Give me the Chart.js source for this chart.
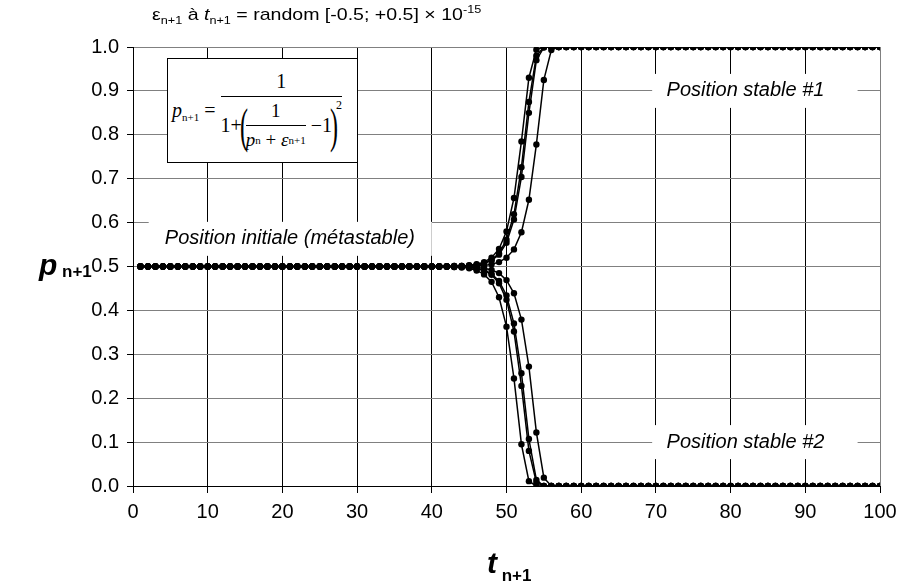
<!DOCTYPE html>
<html>
<head>
<meta charset="utf-8">
<script src="https://cdn.jsdelivr.net/npm/chart.js@4/dist/chart.umd.min.js"></script>
<style>
  body { margin: 0; background: #fff; }
  #wrap { position: relative; width: 907px; height: 586px; font-family: 'Liberation Sans', Arial, sans-serif; }
  #title { position: absolute; left: 152px; top: 3px; font-size: 17px; white-space: nowrap; transform: scaleX(1.15); transform-origin: left top; }
  #title sub, #title sup { font-size: 11px; }
  #ytitle { position: absolute; left: 39px; top: 248px; font-weight: bold; white-space: nowrap; }
  #ytitle i { font-size: 30px; }
  #ytitle sub { font-size: 17px; vertical-align: -2px; }
  #xtitle { position: absolute; left: 487px; top: 546px; font-weight: bold; white-space: nowrap; }
  #xtitle i { font-size: 30px; }
  #xtitle sub { font-size: 17px; vertical-align: -8px; }
  #formula { position: absolute; left: 167px; top: 58px; width: 191px; height: 105px; box-sizing: border-box;
    border: 1px solid #000; background: #fff; font-family: 'Liberation Serif', 'Times New Roman', serif;
    font-size: 20px; display: flex; align-items: center; padding-left: 4px; white-space: nowrap; }
  #formula sub { font-size: 11px; vertical-align: -4px; }
  .frac { display: inline-flex; flex-direction: column; align-items: center; vertical-align: middle; }
  .frac .num { padding: 0 3px 3px; }
  .frac .den { border-top: 1px solid #000; padding: 3px 0 0; display: flex; align-items: center; }
  .inner { font-size: 19px; }
  .big { font-size: 48px; line-height: 1; display: inline-block; transform: scaleX(0.5); margin: 0 -6px; }
  .sq { font-size: 12px; align-self: flex-start; margin-top: -2px; }
</style>
</head>
<body>
<div id="wrap">
  <canvas id="chart" width="907" height="586"></canvas>
  <div id="title">ε<sub>n+1</sub> à <i>t</i><sub>n+1</sub> = random [-0.5; +0.5] × 10<sup>-15</sup></div>
  <div id="ytitle"><i>p</i><sub> n+1</sub></div>
  <div id="xtitle"><i>t</i><sub> n+1</sub></div>
  <div id="formula">
    <span><i>p</i><sub>n+1</sub>&nbsp;=&nbsp;</span>
    <span class="frac">
      <span class="num">1</span>
      <span class="den">1+<span class="big">(</span><span class="frac inner"><span class="num">1</span><span class="den"><i>p</i><sub>n</sub>&nbsp;+&nbsp;<i>ε</i><sub>n+1</sub></span></span>&nbsp;−1<span class="big">)</span><span class="sq">2</span></span>
    </span>
  </div>
</div>
<script>
// time steps t(n+1)
const steps = Array.from({ length: 100 }, (v, i) => i + 1);

// runs that end at position stable #1
const upA = [
  0.5,0.5,0.5,0.5,0.5,0.5,0.5,0.5,0.5,0.5,0.5,0.5,0.5,0.5,0.5,0.5,0.5,0.5,0.5,0.5,
  0.5,0.5,0.5,0.5,0.5,0.5,0.5,0.5,0.5,0.5,0.5,0.5,0.5,0.5,0.5,0.5,0.5,0.5,0.5,0.5,
  0.5,0.5,0.5,0.5,0.501,0.501,0.502,0.505,0.510,0.520,0.539,0.578,0.652,0.778,0.925,0.993,1,1,1,1,
  1,1,1,1,1,1,1,1,1,1,1,1,1,1,1,1,1,1,1,1,
  1,1,1,1,1,1,1,1,1,1,1,1,1,1,1,1,1,1,1,1
];
const upB = [
  0.5,0.5,0.5,0.5,0.5,0.5,0.5,0.5,0.5,0.5,0.5,0.5,0.5,0.5,0.5,0.5,0.5,0.5,0.5,0.5,
  0.5,0.5,0.5,0.5,0.5,0.5,0.5,0.5,0.5,0.5,0.5,0.5,0.5,0.5,0.5,0.5,0.5,0.5,0.5,0.5,
  0.5,0.5,0.501,0.501,0.503,0.505,0.510,0.520,0.540,0.580,0.656,0.785,0.930,0.994,1,1,1,1,1,1,
  1,1,1,1,1,1,1,1,1,1,1,1,1,1,1,1,1,1,1,1,
  1,1,1,1,1,1,1,1,1,1,1,1,1,1,1,1,1,1,1,1
];
const upC = [
  0.5,0.5,0.5,0.5,0.5,0.5,0.5,0.5,0.5,0.5,0.5,0.5,0.5,0.5,0.5,0.5,0.5,0.5,0.5,0.5,
  0.5,0.5,0.5,0.5,0.5,0.5,0.5,0.5,0.5,0.5,0.5,0.5,0.5,0.5,0.5,0.5,0.5,0.5,0.5,0.5,
  0.5,0.5,0.501,0.501,0.502,0.504,0.508,0.515,0.530,0.561,0.619,0.726,0.875,0.980,1,1,1,1,1,1,
  1,1,1,1,1,1,1,1,1,1,1,1,1,1,1,1,1,1,1,1,
  1,1,1,1,1,1,1,1,1,1,1,1,1,1,1,1,1,1,1,1
];
const upD = [
  0.5,0.5,0.5,0.5,0.5,0.5,0.5,0.5,0.5,0.5,0.5,0.5,0.5,0.5,0.5,0.5,0.5,0.5,0.5,0.5,
  0.5,0.5,0.5,0.5,0.5,0.5,0.5,0.5,0.5,0.5,0.5,0.5,0.5,0.5,0.5,0.5,0.5,0.5,0.5,0.5,
  0.5,0.5,0.5,0.501,0.502,0.503,0.507,0.514,0.527,0.554,0.607,0.704,0.850,0.970,0.999,1,1,1,1,1,
  1,1,1,1,1,1,1,1,1,1,1,1,1,1,1,1,1,1,1,1,
  1,1,1,1,1,1,1,1,1,1,1,1,1,1,1,1,1,1,1,1
];

// runs that end at position stable #2
const downE = [
  0.5,0.5,0.5,0.5,0.5,0.5,0.5,0.5,0.5,0.5,0.5,0.5,0.5,0.5,0.5,0.5,0.5,0.5,0.5,0.5,
  0.5,0.5,0.5,0.5,0.5,0.5,0.5,0.5,0.5,0.5,0.5,0.5,0.5,0.5,0.5,0.5,0.5,0.5,0.5,0.5,
  0.5,0.5,0.5,0.499,0.499,0.498,0.496,0.492,0.485,0.469,0.439,0.379,0.272,0.122,0.019,0,0,0,0,0,
  0,0,0,0,0,0,0,0,0,0,0,0,0,0,0,0,0,0,0,0,
  0,0,0,0,0,0,0,0,0,0,0,0,0,0,0,0,0,0,0,0
];
const downF = [
  0.5,0.5,0.5,0.5,0.5,0.5,0.5,0.5,0.5,0.5,0.5,0.5,0.5,0.5,0.5,0.5,0.5,0.5,0.5,0.5,
  0.5,0.5,0.5,0.5,0.5,0.5,0.5,0.5,0.5,0.5,0.5,0.5,0.5,0.5,0.5,0.5,0.5,0.5,0.5,0.5,
  0.5,0.5,0.5,0.499,0.498,0.496,0.492,0.483,0.467,0.434,0.370,0.257,0.107,0.014,0,0,0,0,0,0,
  0,0,0,0,0,0,0,0,0,0,0,0,0,0,0,0,0,0,0,0,
  0,0,0,0,0,0,0,0,0,0,0,0,0,0,0,0,0,0,0,0
];
const downG = [
  0.5,0.5,0.5,0.5,0.5,0.5,0.5,0.5,0.5,0.5,0.5,0.5,0.5,0.5,0.5,0.5,0.5,0.5,0.5,0.5,
  0.5,0.5,0.5,0.5,0.5,0.5,0.5,0.5,0.5,0.5,0.5,0.5,0.5,0.5,0.5,0.5,0.5,0.5,0.5,0.5,
  0.5,0.5,0.499,0.499,0.498,0.495,0.491,0.481,0.462,0.424,0.352,0.228,0.080,0.008,0,0,0,0,0,0,
  0,0,0,0,0,0,0,0,0,0,0,0,0,0,0,0,0,0,0,0,
  0,0,0,0,0,0,0,0,0,0,0,0,0,0,0,0,0,0,0,0
];
const downH = [
  0.5,0.5,0.5,0.5,0.5,0.5,0.5,0.5,0.5,0.5,0.5,0.5,0.5,0.5,0.5,0.5,0.5,0.5,0.5,0.5,
  0.5,0.5,0.5,0.5,0.5,0.5,0.5,0.5,0.5,0.5,0.5,0.5,0.5,0.5,0.5,0.5,0.5,0.5,0.5,0.5,
  0.5,0.5,0.499,0.498,0.496,0.491,0.482,0.465,0.430,0.363,0.245,0.095,0.011,0,0,0,0,0,0,0,
  0,0,0,0,0,0,0,0,0,0,0,0,0,0,0,0,0,0,0,0,
  0,0,0,0,0,0,0,0,0,0,0,0,0,0,0,0,0,0,0,0
];

const allRuns = [upA, upB, upC, upD, downE, downF, downG, downH];

// text labels inside the plot: [text, x value, y value, box from x, box to x]
const notes = [
  ['Position stable #1', 82, 0.9, 69.5, 97],
  ['Position stable #2', 82, 0.1, 69.5, 97],
  ['Position initiale (métastable)', 21, 0.563, 2.1, 40]
];

const notePlugin = {
  id: 'notes',
  beforeDatasetsDraw(chart) {
    const ctx = chart.ctx;
    const xs = chart.scales.x, ys = chart.scales.y;
    ctx.save();
    ctx.font = 'italic 20px "Liberation Sans", Arial, sans-serif';
    ctx.textAlign = 'center';
    ctx.textBaseline = 'middle';
    notes.forEach(n => {
      const cy = ys.getPixelForValue(n[2]);
      const x0 = xs.getPixelForValue(n[3]);
      const x1 = xs.getPixelForValue(n[4]);
      ctx.fillStyle = '#fff';
      ctx.fillRect(x0, cy - 17, x1 - x0, 34);
      ctx.fillStyle = '#000';
      ctx.fillText(n[0], xs.getPixelForValue(n[1]), cy);
    });
    ctx.restore();
  }
};

const ctx = document.getElementById('chart').getContext('2d');
const chart = new Chart(ctx, {
  type: 'line',
  data: {
    datasets: allRuns.map(run => ({
      data: run.map((v, i) => ({ x: steps[i], y: v })),
      borderColor: '#000',
      borderWidth: 1.5,
      pointRadius: 3.2,
      pointBackgroundColor: '#000',
      pointBorderWidth: 0,
      fill: false,
      tension: 0
    }))
  },
  options: {
    responsive: false,
    animation: false,
    devicePixelRatio: 1,
    layout: { padding: { top: 47, right: 27, left: 0, bottom: 0 } },
    plugins: { legend: { display: false }, tooltip: { enabled: false } },
    scales: {
      x: {
        type: 'linear',
        min: 0,
        max: 100,
        afterFit: s => { s.height = 100; },
        ticks: { stepSize: 10, padding: 7, color: '#000', font: { size: 20, family: '"Liberation Sans", Arial' } },
        grid: {
          color: c => (c.tick && c.tick.value === 100 ? '#808080' : '#000'),
          tickColor: '#000',
          tickLength: 7
        },
        border: { color: '#000' }
      },
      y: {
        min: 0,
        max: 1,
        afterFit: s => { s.width = 133; },
        ticks: { stepSize: 0.1, padding: 8, color: '#000', callback: v => v.toFixed(1),
          font: { size: 20, family: '"Liberation Sans", Arial' } },
        grid: {
          color: c => (c.tick && c.tick.value === 0 ? '#000' : '#808080'),
          tickColor: '#000',
          tickLength: 6
        },
        border: { color: '#000' }
      }
    }
  },
  plugins: [notePlugin]
});
</script>
</body>
</html>
